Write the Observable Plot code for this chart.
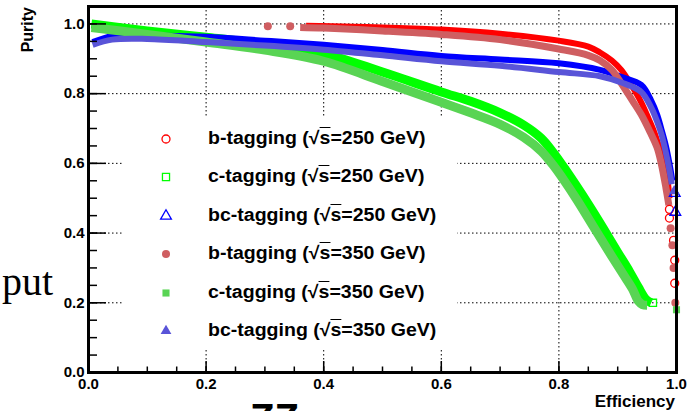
<!DOCTYPE html>
<html><head><meta charset="utf-8">
<script src="https://cdn.jsdelivr.net/npm/d3@7"></script>
<script src="https://cdn.jsdelivr.net/npm/@observablehq/plot@0.6"></script>
<style>
body{margin:0;background:#fff;}
#wrap{position:relative;width:693px;height:411px;overflow:hidden;font-family:"Liberation Sans",Arial,sans-serif;background:#fff;}
#legend{position:absolute;left:124px;top:117px;width:333px;height:233px;background:#fff;}
.row{position:absolute;left:0;height:30px;}
.row svg{position:absolute;left:34px;top:7px;}
.row span.t{position:absolute;left:84px;white-space:nowrap;font-weight:bold;font-size:18px;transform:scaleX(1.085);transform-origin:left center;top:4px;}
.frag{position:absolute;white-space:nowrap;line-height:1;}
</style></head><body><div id="wrap"></div>
<script>
// ---- data ----
const xTicks = [0, 0.2, 0.4, 0.6, 0.8, 1];
const yTicks = [0, 0.2, 0.4, 0.6, 0.8, 1];
const xGrid = [0.2, 0.4, 0.6, 0.8];
const yGrid = [0.2, 0.4, 0.6, 0.8, 1];
const minorStep = 0.05;

const b250Curve = [[0.37,0.995],[0.45,0.992],[0.5,0.99],[0.6,0.984],[0.7,0.972],[0.8,0.952],[0.85,0.935],[0.87,0.918],[0.89,0.895],[0.906,0.868],[0.923,0.825],[0.94,0.775],[0.952,0.73],[0.962,0.69],[0.972,0.64],[0.98,0.6],[0.985,0.55],[0.988,0.5]];
const b250Sparse = [[0.988,0.468],[0.988,0.443],[0.995,0.379],[0.997,0.322],[0.997,0.256]];
const c250Curve = [[0.005,1.0],[0.1,0.98],[0.2,0.962],[0.3,0.942],[0.4,0.915],[0.5,0.862],[0.6,0.805],[0.65,0.778],[0.7,0.745],[0.74,0.71],[0.77,0.672],[0.79,0.632],[0.81,0.585],[0.83,0.535],[0.85,0.483],[0.875,0.415],[0.9,0.345],[0.92,0.29],[0.935,0.245],[0.948,0.21],[0.957,0.2]];
const c250Sparse = [[0.96,0.2]];
const bc250Curve = [[0.007,0.948],[0.04,0.965],[0.1,0.967],[0.2,0.963],[0.3,0.952],[0.4,0.94],[0.5,0.925],[0.6,0.908],[0.7,0.898],[0.8,0.887],[0.87,0.868],[0.906,0.848],[0.94,0.825],[0.957,0.78],[0.967,0.74],[0.974,0.7],[0.982,0.65],[0.988,0.6],[0.993,0.55]];
const bc250Sparse = [[0.997,0.514],[0.998,0.46]];
const b350Curve = [[0.36,0.99],[0.4,0.988],[0.5,0.98],[0.6,0.97],[0.7,0.955],[0.8,0.928],[0.85,0.91],[0.87,0.895],[0.89,0.868],[0.906,0.83],[0.925,0.78],[0.94,0.74],[0.955,0.69],[0.967,0.645],[0.974,0.6],[0.982,0.53],[0.987,0.48]];
const b350Sparse = [[0.305,0.993],[0.343,0.993],[0.99,0.414],[0.993,0.365],[0.995,0.3],[0.998,0.2]];
const c350Curve = [[0.005,0.99],[0.1,0.97],[0.2,0.948],[0.3,0.925],[0.4,0.893],[0.5,0.835],[0.6,0.775],[0.65,0.745],[0.7,0.712],[0.74,0.675],[0.77,0.635],[0.79,0.595],[0.81,0.548],[0.83,0.497],[0.86,0.415],[0.89,0.333],[0.91,0.28],[0.925,0.24],[0.935,0.205],[0.942,0.195],[0.95,0.193]];
const c350Sparse = [[1.0,0.18]];
const bc350Curve = [[0.007,0.94],[0.04,0.955],[0.1,0.957],[0.2,0.948],[0.3,0.938],[0.4,0.926],[0.5,0.91],[0.6,0.893],[0.7,0.88],[0.8,0.862],[0.87,0.85],[0.906,0.832],[0.94,0.805],[0.957,0.76],[0.967,0.72],[0.975,0.68],[0.982,0.63],[0.988,0.58],[0.992,0.54]];
const bc350Sparse = [[0.996,0.52]];

const tagNames = ["b-tagging","c-tagging","bc-tagging","b-tagging","c-tagging","bc-tagging"];
const energies = ["250","250","250","350","350","350"];

// ---- styling ----
const series = [
  {curve:b250Curve, sparse:b250Sparse, color:"#ff0000", symbol:"circle", filled:false, w:6},
  {curve:c250Curve, sparse:c250Sparse, color:"#00ff00", symbol:"square", filled:false, w:9},
  {curve:bc250Curve, sparse:bc250Sparse, color:"#0000ff", symbol:"triangle", filled:false, w:6},
  {curve:b350Curve, sparse:b350Sparse, color:"#cf5e61", symbol:"circle", filled:true, w:7},
  {curve:c350Curve, sparse:c350Sparse, color:"#59d454", symbol:"square", filled:true, w:9},
  {curve:bc350Curve, sparse:bc350Sparse, color:"#5954d8", symbol:"triangle", filled:true, w:6}
].map((s,i)=>({...s, name:tagNames[i], energy:energies[i]}));

const W=693, H=411, mL=88, mR=17, mT=6, mB=39;
const fw = W-mL-mR, fh = H-mT-mB;
const minorX = d3.range(0, 1+1e-9, minorStep);
const minorY = d3.range(0, 1.05+1e-9, minorStep);

const marks = [
  Plot.gridX(xGrid, {stroke:"black", strokeOpacity:1, strokeWidth:1, strokeDasharray:"1.5,2.5"}),
  Plot.gridY(yGrid, {stroke:"black", strokeOpacity:1, strokeWidth:1, strokeDasharray:"1.5,2.5"})
];
for (const s of series) {
  marks.push(Plot.line(s.curve, {x:d=>d[0], y:d=>d[1], stroke:s.color, strokeWidth:s.w, curve:"catmull-rom", strokeLinecap:"butt"}));
}
for (const s of series) {
  marks.push(Plot.dot(s.sparse, {x:d=>d[0], y:d=>d[1], symbol:s.symbol, r:4,
    fill: s.filled ? s.color : "none", stroke: s.filled ? "none" : s.color, strokeWidth:1.3}));
}
marks.push(
  Plot.tickY(yTicks, {y:d=>d, stroke:"black", strokeWidth:1.5, insetRight: fw-18}),
  Plot.tickY(minorY, {y:d=>d, stroke:"black", strokeWidth:1.5, insetRight: fw-9}),
  Plot.tickX(xTicks, {x:d=>d, stroke:"black", strokeWidth:1.5, insetTop: fh-11}),
  Plot.tickX(minorX, {x:d=>d, stroke:"black", strokeWidth:1.5, insetTop: fh-5.5}),
  Plot.axisX({ticks:xTicks, tickSize:0, tickPadding:6, fontSize:15, fontWeight:"bold"}),
  Plot.axisY({ticks:yTicks, tickSize:0, tickPadding:4, fontSize:15, fontWeight:"bold"}),
  Plot.frame({stroke:"black", strokeWidth:3})
);

const chart = Plot.plot({
  width:W, height:H, marginLeft:mL, marginRight:mR, marginTop:mT, marginBottom:mB,
  x:{domain:[0,1], label:null},
  y:{domain:[0,1.05], label:null},
  style:{fontFamily:"'Liberation Sans', Arial, sans-serif", fontWeight:"bold", color:"black", background:"white"},
  marks
});
const wrap = document.getElementById("wrap");
wrap.appendChild(chart);

const svg = d3.select(chart);
svg.append("text").attr("x",675).attr("y",407).attr("text-anchor","end")
  .attr("font-size",17).attr("font-weight","bold").attr("fill","black").text("Efficiency");
svg.append("text").attr("transform","translate(33,7) rotate(-90)").attr("text-anchor","end")
  .attr("font-size",16).attr("font-weight","bold").attr("fill","black").text("Purity");

// legend
const legend = d3.select(wrap).append("div").attr("id","legend");
series.forEach((s,i)=>{
  const row = legend.append("div").attr("class","row").style("top",(22+i*38.4-15)+"px").style("width","333px");
  const sv = row.append("svg").attr("width",16).attr("height",16);
  const sym = {circle:d3.symbolCircle, square:d3.symbolSquare, triangle:d3.symbolTriangle}[s.symbol];
  sv.append("path").attr("transform","translate(8,8)")
    .attr("d", d3.symbol().type(sym).size(Math.PI*16)())
    .attr("fill", s.filled ? s.color : "none").attr("stroke", s.filled ? "none" : s.color).attr("stroke-width",1.3);
  const t = row.append("span").attr("class","t");
  t.append("span").text(s.name + " (√");
  t.append("span").style("text-decoration","overline").text("s");
  t.append("span").text("=" + s.energy + " GeV)");
});

// slide fragments around the chart
d3.select(wrap).append("div").attr("class","frag")
  .style("left","2px").style("top","262px").style("font-family","'Liberation Serif', serif").style("font-size","40px").text("put");
d3.select(wrap).append("div").attr("class","frag")
  .style("left","250px").style("top","398px").style("font-family","'Liberation Sans', sans-serif").style("font-weight","bold").style("font-size","40px").text("ZZ →");
</script></body></html>
